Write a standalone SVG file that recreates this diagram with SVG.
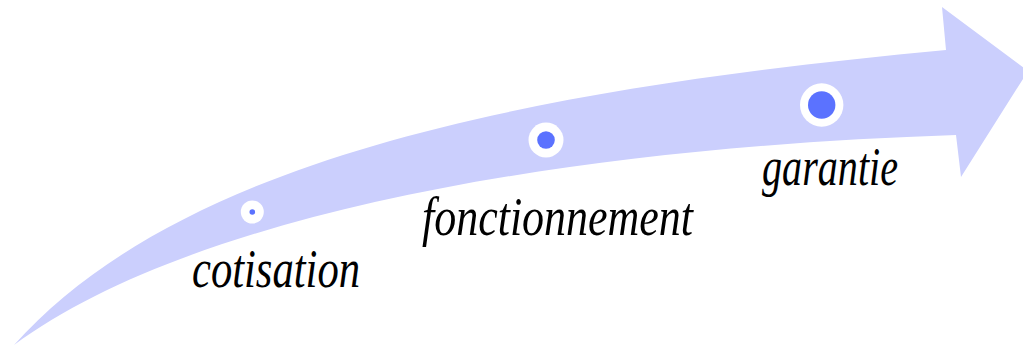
<svg xmlns="http://www.w3.org/2000/svg" width="1023" height="346" viewBox="0 0 1023 346">
  <style>
    .band { fill: #CBCFFD; }
    .ring { fill: #FFFFFF; }
    .dot { fill: #5B72FF; }
    .label { font-family: "Liberation Serif", "DejaVu Serif", serif; font-style: italic; font-size: 54px; fill: #000000; }
  </style>
  <rect width="1023" height="346" fill="#FFFFFF"/>
  <g id="connectors">
    <g id="arrow">
      <path class="band" d="M14,345 C180,160 520,90 946,50 L942,7 L1028,71 L961,177 L956,135 C560,148 190,215 14,345 Z"/>
    </g>
  </g>
  <g id="step-cotisation">
    <circle class="ring" cx="252.3" cy="212" r="11.5"/>
    <circle class="dot" cx="252.3" cy="212" r="2.8"/>
    <text class="label" x="192" y="287" textLength="168" lengthAdjust="spacingAndGlyphs">cotisation</text>
  </g>
  <g id="step-fonctionnement">
    <circle class="ring" cx="546" cy="140" r="17.5"/>
    <circle class="dot" cx="546" cy="140" r="8.8"/>
    <text class="label" x="422" y="235" textLength="271" lengthAdjust="spacingAndGlyphs">fonctionnement</text>
  </g>
  <g id="step-garantie">
    <circle class="ring" cx="821.7" cy="105" r="21.7"/>
    <circle class="dot" cx="821.7" cy="105" r="13.7"/>
    <text class="label" x="762" y="185" textLength="136" lengthAdjust="spacingAndGlyphs">garantie</text>
  </g>
</svg>
